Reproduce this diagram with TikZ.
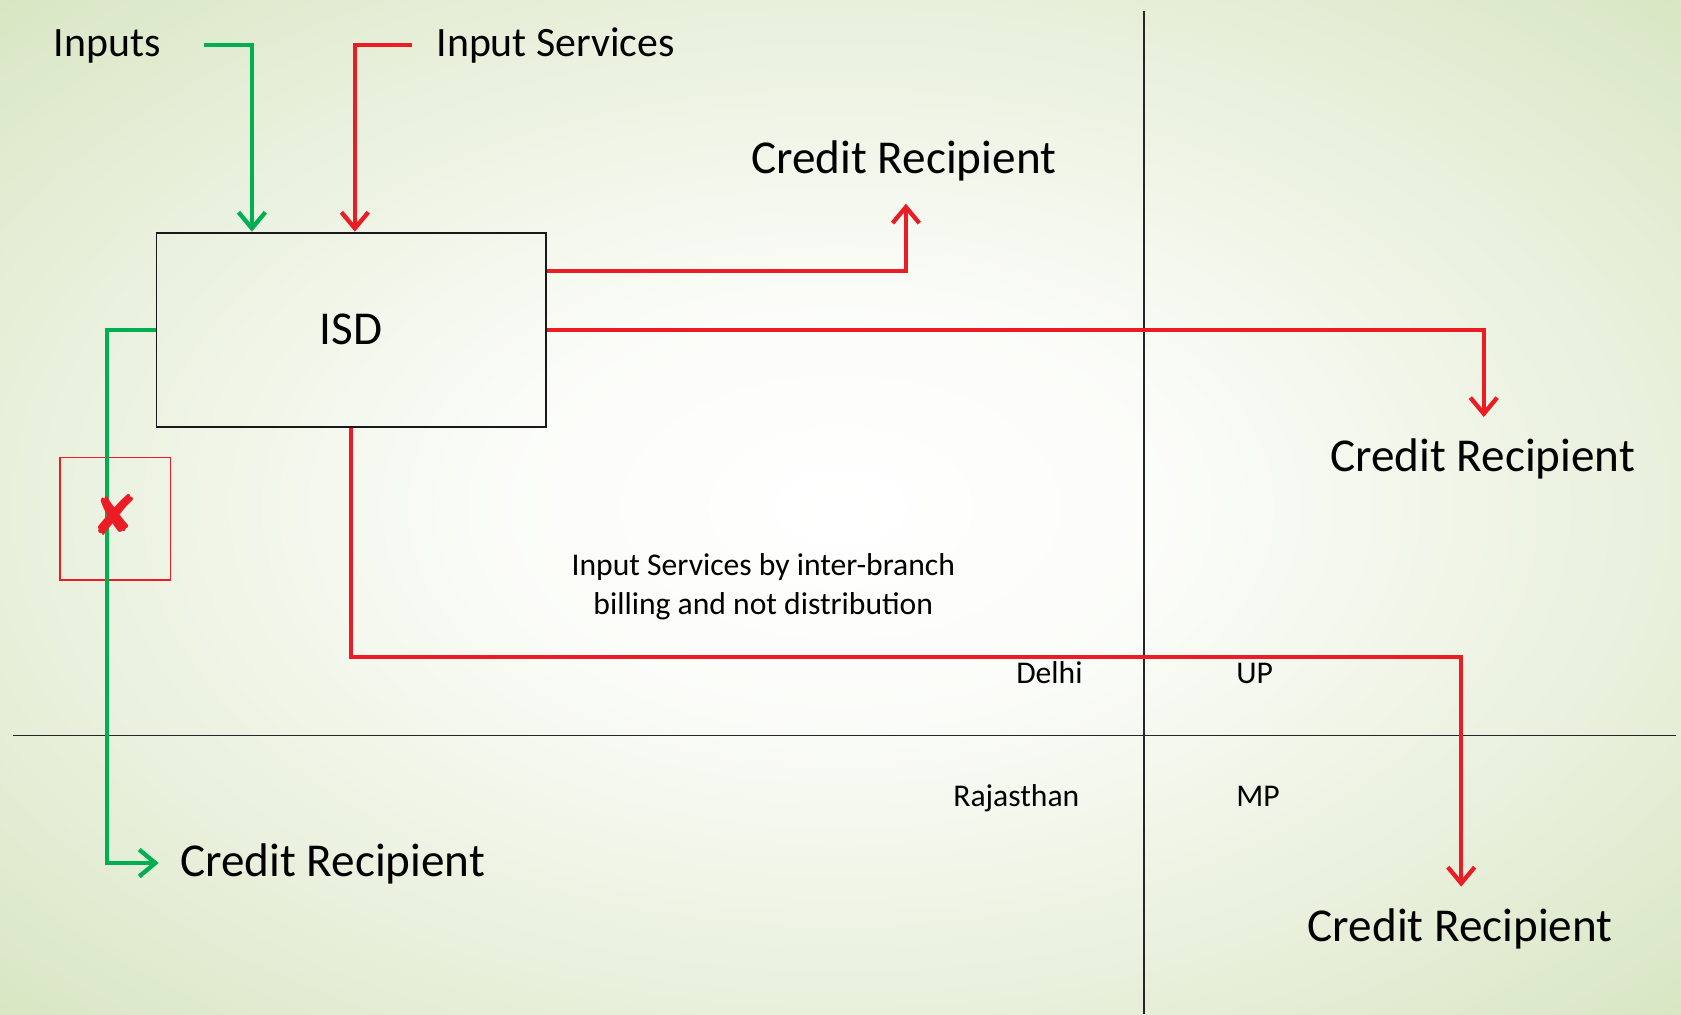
\documentclass[tikz,border=0pt]{standalone}
\usepackage{fontspec}
\setmainfont{Carlito}
\newfontfamily\symfont{DejaVu Sans}
\usetikzlibrary{arrows.meta}
\definecolor{arrred}{RGB}{236,28,36}
\definecolor{arrgreen}{RGB}{0,176,80}
\pgfdeclareradialshading{bgshade}{\pgfpoint{0bp}{0bp}}{rgb(0bp)=(1,1,1); rgb(10bp)=(0.985,0.99,0.975); rgb(25bp)=(0.91,0.94,0.86); rgb(36bp)=(0.845,0.9,0.76); rgb(50bp)=(0.845,0.9,0.76)}
\begin{document}
\begin{tikzpicture}[x=1pt,y=-1pt,
  big/.style={font=\fontsize{44}{52}\selectfont, inner sep=0pt, anchor=base},
  mid/.style={font=\fontsize{39}{46}\selectfont, inner sep=0pt, anchor=base west},
  small/.style={font=\fontsize{29.5}{36}\selectfont, inner sep=0pt},
  rflow/.style={draw=arrred, line width=4pt, -{Straight Barb[length=15pt,width=25pt]}},
  gflow/.style={draw=arrgreen, line width=4pt, -{Straight Barb[length=15pt,width=25pt]}},
  gridline/.style={draw=black!85, line width=1.5pt},
  boxstyle/.style={draw=black!90, line width=1.8pt, minimum width=363pt, minimum height=181pt, inner sep=0pt, font=\fontsize{44}{52}\selectfont}]
\useasboundingbox (0,0) rectangle (1568,946);
\shade[shading=bgshade] (0,0) rectangle (1568,946);

% grid
\coordinate (vtop) at (1067,10);
\coordinate (vbot) at (1067,946);
\coordinate (hleft) at (12,686);
\coordinate (hright) at (1563,686);
\draw[gridline] (vtop) -- (vbot);
\draw[gridline] (hleft) -- (hright);

% texts
\node[mid] (inputs) at (50,53) {Inputs};
\node[mid] (insvc) at (407,53) {Input Services};
\node[boxstyle] (isd) at (327.5,307.5) {ISD};
\node[big] (cr1) at (843,162) {Credit Recipient};
\node[big] (cr2) at (1383,440) {Credit Recipient};
\node[big] (cr3) at (1362,878) {Credit Recipient};
\node[big, anchor=base west] (cr4) at (168,818) {Credit Recipient};
\node[small, anchor=base] (note1) at (712,537) {Input Services by inter-branch};
\node[small, anchor=base] (note2) at (712,573) {billing and not distribution};
\node[small, anchor=base east] (delhi) at (1010,638) {Delhi};
\node[small, anchor=base west] (up) at (1153,638) {UP};
\node[small, anchor=base east] (raj) at (1007,752) {Rajasthan};
\node[small, anchor=base west] (mp) at (1153,752) {MP};

% coordinates
\coordinate (gin) at (190,42);
\coordinate (rin) at (384,42);
\coordinate (cr1tip) at (845,190);
\coordinate (cr2tip) at (1384,389);
\coordinate (rb) at (1363,613);
\coordinate (cr3tip) at (1363,827);
\coordinate (gb) at (100,805);
\coordinate (cr4tip) at (148,805);

% red square
\node[draw=arrred, line width=1.2pt, minimum width=103pt, minimum height=114pt, inner sep=0pt] (nobox) at (107.5,484) {};

% connectors
\draw[gflow] (gin) -| ([xshift=-92.5pt]isd.north);
\draw[rflow] (rin) -| ([xshift=3.5pt]isd.north);
\draw[rflow] ([yshift=54.5pt]isd.east) -| (cr1tip);
\draw[rflow] (isd.east) -| (cr2tip);
\draw[rflow] (isd.south) |- (rb) -- (cr3tip);
\draw[gflow] (isd.west) -| (gb) -- (cr4tip);

% cross
\node[text=arrred, font=\symfont\fontsize{52}{52}\selectfont, inner sep=0pt] (xmark) at (107,480) {✘};
\end{tikzpicture}
\end{document}
